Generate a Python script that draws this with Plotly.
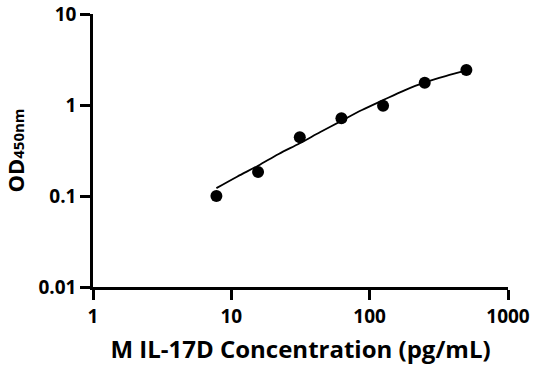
import plotly.graph_objects as go

conc = [7.8, 15.6, 31.25, 62.5, 125, 250, 500]
od = [0.100, 0.184, 0.442, 0.714, 0.984, 1.76, 2.42]

curve_x = [7.8, 11, 15.6, 22, 31.25, 44, 62.5, 88, 125, 177, 250, 354, 500]
curve_y = [0.122, 0.163, 0.215, 0.29, 0.38, 0.505, 0.67, 0.88, 1.13, 1.44, 1.77, 2.08, 2.38]

x_ticks = [1, 10, 100, 1000]
x_tick_labels = ["1", "10", "100", "1000"]
y_ticks = [0.01, 0.1, 1, 10]
y_tick_labels = ["0.01", "0.1", "1", "10"]

FONT = "Open Sans"

fig = go.Figure()
fig.add_trace(go.Scatter(x=curve_x, y=curve_y, mode="lines",
                         line=dict(color="black", width=1.8, shape="spline"),
                         showlegend=False, hoverinfo="skip"))
fig.add_trace(go.Scatter(x=conc, y=od, mode="markers",
                         marker=dict(color="black", size=12),
                         showlegend=False))

axis_common = dict(showgrid=False, zeroline=False, showline=True, linecolor="black",
                   linewidth=2.5, ticks="outside", ticklen=10, tickwidth=2.5,
                   tickcolor="black", automargin=False, ticklabeloverflow="allow",
                   tickfont=dict(family=FONT, size=19, color="black", weight="bold"))

fig.update_xaxes(type="log", range=[0, 3], tickvals=x_ticks, ticktext=x_tick_labels,
                 title=dict(text="M IL-17D Concentration (pg/mL)",
                            font=dict(family=FONT, size=24, color="black", weight="bold"),
                            standoff=14),
                 **axis_common)
fig.update_yaxes(type="log", range=[-2, 1], tickvals=y_ticks, ticktext=y_tick_labels,
                 title=dict(text="OD<span style='font-size:15px'>450nm</span>",
                            font=dict(family=FONT, size=22, color="black", weight="bold"),
                            standoff=14),
                 **axis_common)

fig.update_layout(width=536, height=371, plot_bgcolor="white", paper_bgcolor="white",
                  margin=dict(l=93, r=28, t=14, b=84))

fig.write_html("out.html", config={"displayModeBar": False},
               post_script="document.body.style.margin='0px';")
